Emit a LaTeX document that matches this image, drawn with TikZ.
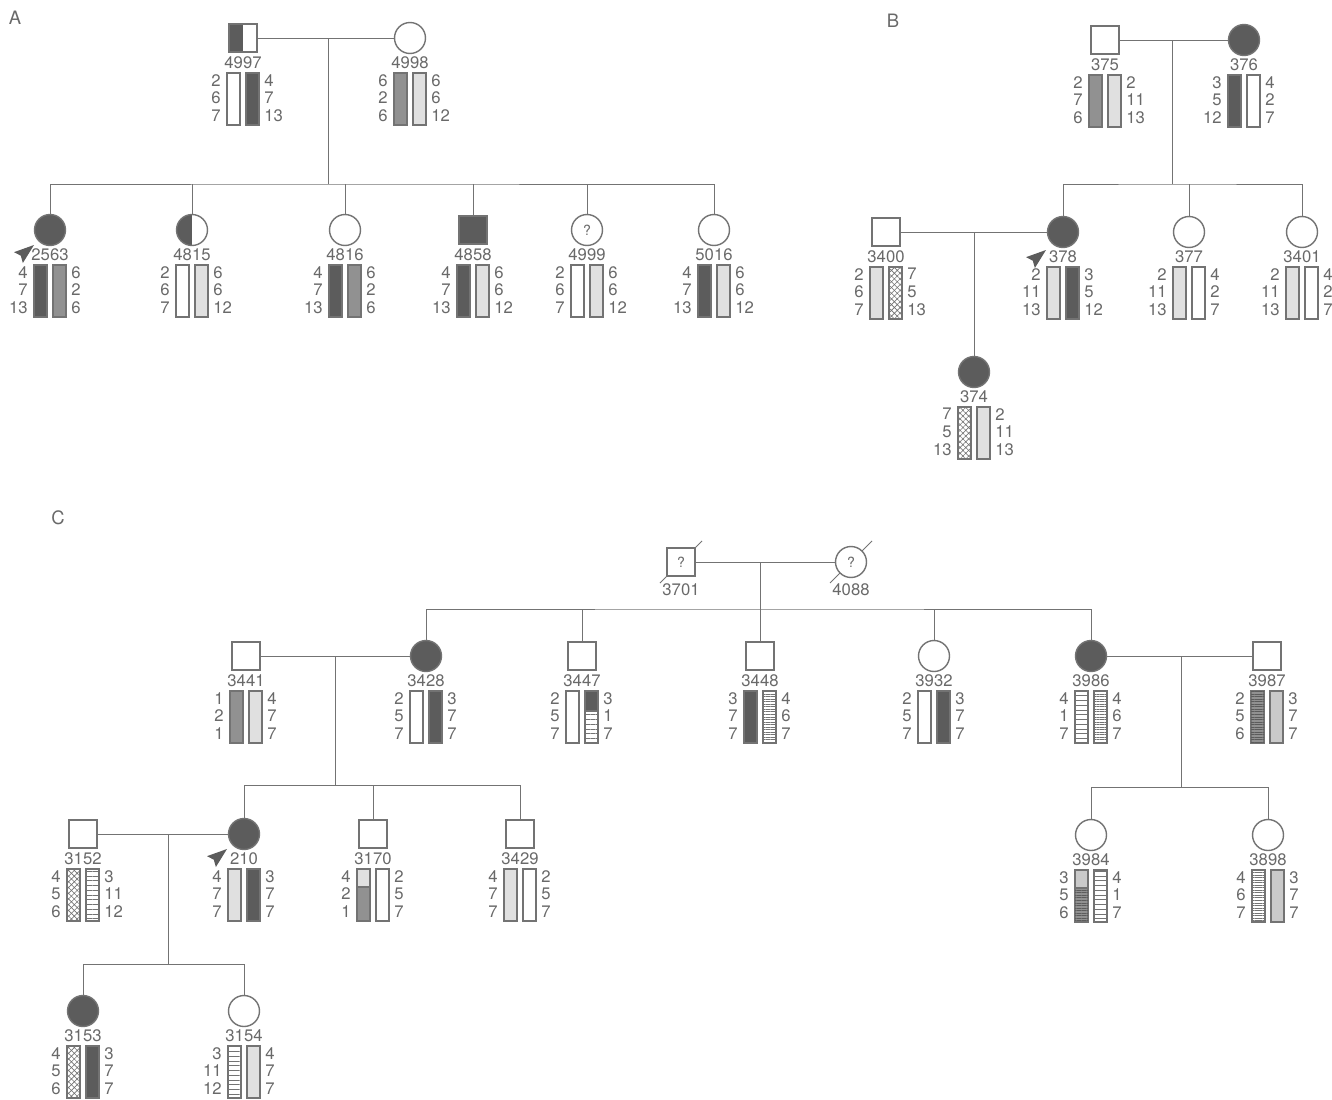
\documentclass[tikz,border=0pt]{standalone}
\usepackage{fontspec}
\setmainfont{TeX Gyre Heros}
\usetikzlibrary{calc,patterns.meta}

\definecolor{ink}{RGB}{115,115,115}
\definecolor{txt}{RGB}{105,105,105}
\definecolor{dark}{RGB}{92,92,92}
\definecolor{mid}{RGB}{145,145,145}
\definecolor{pale}{RGB}{224,224,224}
\definecolor{pale2}{RGB}{202,202,202}

\tikzset{
  male/.style={draw=ink, line width=0.8pt, rectangle, minimum size=0.56cm, inner sep=0pt, fill=white},
  female/.style={draw=ink, line width=0.8pt, circle, minimum size=0.62cm, inner sep=0pt, fill=white},
  aff/.style={fill=dark},
  halfaff/.style={path picture={\fill[dark] (path picture bounding box.north west) rectangle (path picture bounding box.south);}},
  line/.style={draw=ink, line width=0.55pt},
  bar/.style={draw=ink, line width=0.6pt},
  wt/.style={fill=white},
  dk/.style={fill=dark},
  md/.style={fill=mid},
  lt/.style={fill=pale},
  lt2/.style={fill=pale2},
  xh/.style={pattern={Hatch[angle=45,distance=2.3pt,line width=0.35pt]}, pattern color=ink},
  hs/.style={pattern={Lines[angle=0,distance=2.7pt,line width=0.4pt]}, pattern color=ink},
  hd/.style={pattern={Lines[angle=0,distance=1.45pt,line width=0.35pt]}, pattern color=ink},
  ms/.style={fill=mid, postaction={pattern={Lines[angle=0,distance=1.45pt,line width=0.35pt]}, pattern color=dark}},
  idlab/.style={text=txt, font=\fontsize{9.5}{10}\selectfont, inner sep=0pt},
  allele/.style={text=txt, font=\fontsize{9.5}{10}\selectfont, inner sep=0pt},
  panel/.style={text=txt, font=\fontsize{10.5}{12}\selectfont, inner sep=0pt},
  qm/.style={text=txt, font=\fontsize{8}{9}\selectfont},
  proband/.pic={\fill[dark] (0,0) -- (-20,-7) -- (-17,0) -- (-20,7) -- cycle;}
}

% id label, two haplotype bars and their alleles below one person
\newcommand{\hap}[6]{%
  \node[idlab] at ($(#1)+(0,25)$) {#2};
  \draw[bar,#3] ($(#1)+(-16,35)$) rectangle ($(#1)+(-3,87)$);
  \draw[bar,#4] ($(#1)+(3,35)$) rectangle ($(#1)+(16,87)$);
  \node[allele,anchor=north east,align=right] at ($(#1)+(-22,36)$) {#5};
  \node[allele,anchor=north west,align=left] at ($(#1)+(21,36)$) {#6};
}
% recombinant bar: other top part (offset -16 left, 3 right)
\newcommand{\captop}[4]{%
  \draw[bar,#4] ($(#1)+(#2,35)$) rectangle ($(#1)+(#2+13,#3)$);
}

\begin{document}
\begin{tikzpicture}[x=0.02cm, y=-0.02cm]
\useasboundingbox (0,0) rectangle (1332,1099);

%% A
\node[panel] at (15,18) {A};
\node[male,halfaff] (p4997) at (243,38) {};
\node[female] (p4998) at (410,38) {};
\draw[line] (p4997) -- (p4998);
\coordinate (mA) at (328,38);
\coordinate (sA) at (328,184);
\draw[line] (mA) -- (sA);
\node[female,aff] (p2563) at (50,230) {};
\node[female,halfaff] (p4815) at (192,230) {};
\node[female] (p4816) at (345,230) {};
\node[male,aff] (p4858) at (473,230) {};
\node[female,qm] (p4999) at (587,230) {?};
\node[female] (p5016) at (714,230) {};
\draw[line] (p2563) |- (sA) -| (p5016);
\foreach \c in {p4815,p4816,p4858,p4999}
  \draw[line] (\c) -- (\c |- sA);
\pic[rotate=39] at ($(p2563)+(-16,15)$) {proband};

\hap{p4997}{4997}{wt}{dk}{2\\6\\7}{4\\7\\13}
\hap{p4998}{4998}{md}{lt}{6\\2\\6}{6\\6\\12}
\hap{p2563}{2563}{dk}{md}{4\\7\\13}{6\\2\\6}
\hap{p4815}{4815}{wt}{lt}{2\\6\\7}{6\\6\\12}
\hap{p4816}{4816}{dk}{md}{4\\7\\13}{6\\2\\6}
\hap{p4858}{4858}{dk}{lt}{4\\7\\13}{6\\6\\12}
\hap{p4999}{4999}{wt}{lt}{2\\6\\7}{6\\6\\12}
\hap{p5016}{5016}{dk}{lt}{4\\7\\13}{6\\6\\12}

%% B
\node[panel] at (893,21) {B};
\node[male] (p375) at (1105,40) {};
\node[female,aff] (p376) at (1244,40) {};
\draw[line] (p375) -- (p376);
\coordinate (mB) at (1172,40);
\coordinate (sB) at (1172,184);
\draw[line] (mB) -- (sB);
\node[male] (p3400) at (886,232) {};
\node[female,aff] (p378) at (1063,232) {};
\node[female] (p377) at (1189,232) {};
\node[female] (p3401) at (1302,232) {};
\draw[line] (p378) |- (sB) -| (p3401);
\draw[line] (p377) -- (p377 |- sB);
\draw[line] (p3400) -- (p378);
\coordinate (mB2) at (974,232);
\node[female,aff] (p374) at (974,372) {};
\draw[line] (mB2) -- (p374);
\pic[rotate=39] at ($(p378)+(-17,18)$) {proband};

\hap{p375}{375}{md}{lt}{2\\7\\6}{2\\11\\13}
\hap{p376}{376}{dk}{wt}{3\\5\\12}{4\\2\\7}
\hap{p3400}{3400}{lt}{xh}{2\\6\\7}{7\\5\\13}
\hap{p378}{378}{lt}{dk}{2\\11\\13}{3\\5\\12}
\hap{p377}{377}{lt}{wt}{2\\11\\13}{4\\2\\7}
\hap{p3401}{3401}{lt}{wt}{2\\11\\13}{4\\2\\7}
\hap{p374}{374}{xh}{lt}{7\\5\\13}{2\\11\\13}

%% C
\node[panel] at (58,518) {C};
\coordinate (c3701) at (681,562);
\coordinate (c4088) at (851,562);
\draw[line] ($(c3701)+(-21,21)$) -- ($(c3701)+(21,-21)$);
\draw[line] ($(c4088)+(-21,21)$) -- ($(c4088)+(21,-21)$);
\node[male,qm] (p3701) at (c3701) {?};
\node[female,qm] (p4088) at (c4088) {?};
\node[idlab] at ($(p3701)+(0,28)$) {3701};
\node[idlab] at ($(p4088)+(0,28)$) {4088};
\draw[line] (p3701) -- (p4088);
\coordinate (mC) at (760,562);
\coordinate (sC) at (760,609);

\node[male] (p3441) at (246,656) {};
\node[female,aff] (p3428) at (426,656) {};
\node[male] (p3447) at (582,656) {};
\node[male] (p3448) at (760,656) {};
\node[female] (p3932) at (934,656) {};
\node[female,aff] (p3986) at (1091,656) {};
\node[male] (p3987) at (1267,656) {};
\draw[line] (mC) -- (p3448);
\draw[line] (p3428) |- (sC) -| (p3986);
\foreach \c in {p3447,p3932}
  \draw[line] (\c) -- (\c |- sC);
\draw[line] (p3441) -- (p3428);
\draw[line] (p3986) -- (p3987);
\coordinate (mC2) at (335,656);
\coordinate (sC2) at (335,785);
\coordinate (mC3) at (1181,656);
\coordinate (sC3) at (1181,787);
\draw[line] (mC2) -- (sC2);
\draw[line] (mC3) -- (sC3);

\node[male] (p3152) at (83,834) {};
\node[female,aff] (p210) at (244,834) {};
\node[male] (p3170) at (373,834) {};
\node[male] (p3429) at (520,834) {};
\node[female] (p3984) at (1091,835) {};
\node[female] (p3898) at (1268,835) {};
\draw[line] (p210) |- (sC2) -| (p3429);
\draw[line] (p3170) -- (p3170 |- sC2);
\draw[line] (p3984) |- (sC3) -| (p3898);
\draw[line] (p3152) -- (p210);
\coordinate (mC4) at (168,834);
\coordinate (sC4) at (168,964);
\draw[line] (mC4) -- (sC4);
\pic[rotate=39] at ($(p210)+(-17,15)$) {proband};

\node[female,aff] (p3153) at (83,1011) {};
\node[female] (p3154) at (244,1011) {};
\draw[line] (p3153) |- (sC4) -| (p3154);

\hap{p3441}{3441}{md}{lt}{1\\2\\1}{4\\7\\7}
\hap{p3428}{3428}{wt}{dk}{2\\5\\7}{3\\7\\7}
\hap{p3447}{3447}{wt}{hs}{2\\5\\7}{3\\1\\7}
\captop{p3447}{3}{55}{dk}
\hap{p3448}{3448}{dk}{hd}{3\\7\\7}{4\\6\\7}
\hap{p3932}{3932}{wt}{dk}{2\\5\\7}{3\\7\\7}
\hap{p3986}{3986}{hs}{hd}{4\\1\\7}{4\\6\\7}
\hap{p3987}{3987}{ms}{lt2}{2\\5\\6}{3\\7\\7}
\hap{p3152}{3152}{xh}{hs}{4\\5\\6}{3\\11\\12}
\hap{p210}{210}{lt}{dk}{4\\7\\7}{3\\7\\7}
\hap{p3170}{3170}{md}{wt}{4\\2\\1}{2\\5\\7}
\captop{p3170}{-16}{53}{lt}
\hap{p3429}{3429}{lt}{wt}{4\\7\\7}{2\\5\\7}
\hap{p3984}{3984}{ms}{hs}{3\\5\\6}{4\\1\\7}
\captop{p3984}{-16}{53}{lt2}
\hap{p3898}{3898}{hd}{lt2}{4\\6\\7}{3\\7\\7}
\hap{p3153}{3153}{xh}{dk}{4\\5\\6}{3\\7\\7}
\hap{p3154}{3154}{hs}{lt}{3\\11\\12}{4\\7\\7}

\end{tikzpicture}
\end{document}
